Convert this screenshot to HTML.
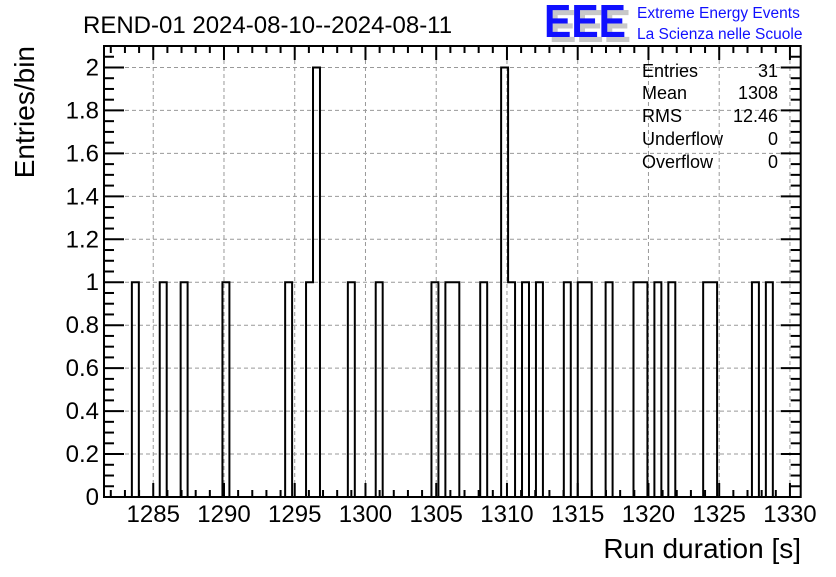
<!DOCTYPE html>
<html><head><meta charset="utf-8"><style>
body{margin:0;background:#fff;}
svg text{font-family:"Liberation Sans",sans-serif;}
</style></head><body>
<svg xmlns="http://www.w3.org/2000/svg" width="836" height="572" viewBox="0 0 836 572">
<rect width="836" height="572" fill="#fff"/>
<g id="grid"></g>
<g id="hist"></g>
<g id="axes"></g>
<text x="83" y="33" font-size="24">REND-01 2024-08-10--2024-08-11</text>
<g>
<text x="549" y="42" font-size="46" font-weight="bold" fill="#c8c8c8" textLength="82" lengthAdjust="spacingAndGlyphs">EEE</text>
<text x="544" y="37" font-size="46" font-weight="bold" fill="#1010ff" textLength="82" lengthAdjust="spacingAndGlyphs">EEE</text>
<text x="637" y="18" font-size="15.5" fill="#1010ff">Extreme Energy Events</text>
<text x="637" y="39" font-size="15.5" fill="#1010ff">La Scienza nelle Scuole</text>
</g>
<g font-size="18">
<text x="642" y="77">Entries</text><text x="778" y="77" text-anchor="end">31</text>
<text x="642" y="99">Mean</text><text x="778" y="99" text-anchor="end">1308</text>
<text x="642" y="122">RMS</text><text x="778" y="122" text-anchor="end">12.46</text>
<text x="642" y="145">Underflow</text><text x="778" y="145" text-anchor="end">0</text>
<text x="642" y="168">Overflow</text><text x="778" y="168" text-anchor="end">0</text>
</g>
<text transform="translate(34,46) rotate(-90)" text-anchor="end" font-size="28">Entries/bin</text>
<text x="801" y="558" text-anchor="end" font-size="28">Run duration [s]</text>
</svg>
<script>
const xMin = 1281.52, xMax = 1330.76, nBins = 100;
const yMin = 0, yMax = 2.1;
const filledBins = [4,8,11,17,26,29,30,35,39,47,49,50,54,57,58,60,62,66,68,69,72,76,77,79,81,86,87,93,95];
const filledCounts = [1,1,1,1,1,1,2,1,1,1,1,1,1,2,1,1,1,1,1,1,1,1,1,1,1,1,1,1,1];
const xTickLabels = ["1285","1290","1295","1300","1305","1310","1315","1320","1325","1330"];
const yTickLabels = ["0","0.2","0.4","0.6","0.8","1","1.2","1.4","1.6","1.8","2"];

const L=104,R=800.7,T=46,B=497;
const NS='http://www.w3.org/2000/svg';
const sx=v=>L+(v-xMin)/(xMax-xMin)*(R-L);
const sy=v=>B-(v-yMin)/(yMax-yMin)*(B-T);
function mk(tag,attrs,parent){const e=document.createElementNS(NS,tag);for(const k in attrs)e.setAttribute(k,attrs[k]);parent.appendChild(e);return e;}
const grid=document.getElementById('grid'),axes=document.getElementById('axes'),hist=document.getElementById('hist');

xTickLabels.forEach(t=>{const v=+t;const g=mk('line',{x1:sx(v),x2:sx(v),y1:T,y2:B,stroke:'#999','stroke-dasharray':'4,3','stroke-width':1},grid);
});
yTickLabels.forEach(t=>{const v=+t;if(v===0)return;const g=mk('line',{x1:L,x2:R,y1:sy(v),y2:sy(v),stroke:'#999','stroke-dasharray':'4,3','stroke-width':1},grid);
});

const counts=new Array(nBins).fill(0);
filledBins.forEach((b,i)=>counts[b]=filledCounts[i]);
const bw=(xMax-xMin)/nBins;
let d='M'+sx(xMin)+','+sy(0);
for(let i=0;i<nBins;i++){const x0=sx(xMin+i*bw),x1=sx(xMin+(i+1)*bw);d+=' L'+x0+','+sy(counts[i])+' L'+x1+','+sy(counts[i]);}
d+=' L'+sx(xMax)+','+sy(0);
const p=mk('path',{d:d,fill:'none',stroke:'#000','stroke-width':2},hist);



const fr=mk('rect',{x:L,y:T,width:R-L,height:B-T,fill:'none',stroke:'#000','stroke-width':2},axes);



for(let v=Math.ceil(xMin);v<=xMax;v++){const major=v%5===0;const len=major?14:7;
mk('line',{x1:sx(v),x2:sx(v),y1:B,y2:B-len,stroke:'#000','stroke-width':2},axes);
mk('line',{x1:sx(v),x2:sx(v),y1:T,y2:T+len,stroke:'#000','stroke-width':2},axes);}
xTickLabels.forEach(t=>{const e=mk('text',{x:sx(+t),y:522,'text-anchor':'middle','font-size':24},axes);e.textContent=t;
});
for(let k=0;k<=42;k++){const v=k*0.05;const major=k%4===0;const len=major?20:10;
mk('line',{x1:L,x2:L+len,y1:sy(v),y2:sy(v),stroke:'#000','stroke-width':2},axes);
mk('line',{x1:R,x2:R-len,y1:sy(v),y2:sy(v),stroke:'#000','stroke-width':2},axes);}
yTickLabels.forEach(t=>{const e=mk('text',{x:99,y:sy(+t)+8,'text-anchor':'end','font-size':24},axes);e.textContent=t;
});
</script>
</body></html>
